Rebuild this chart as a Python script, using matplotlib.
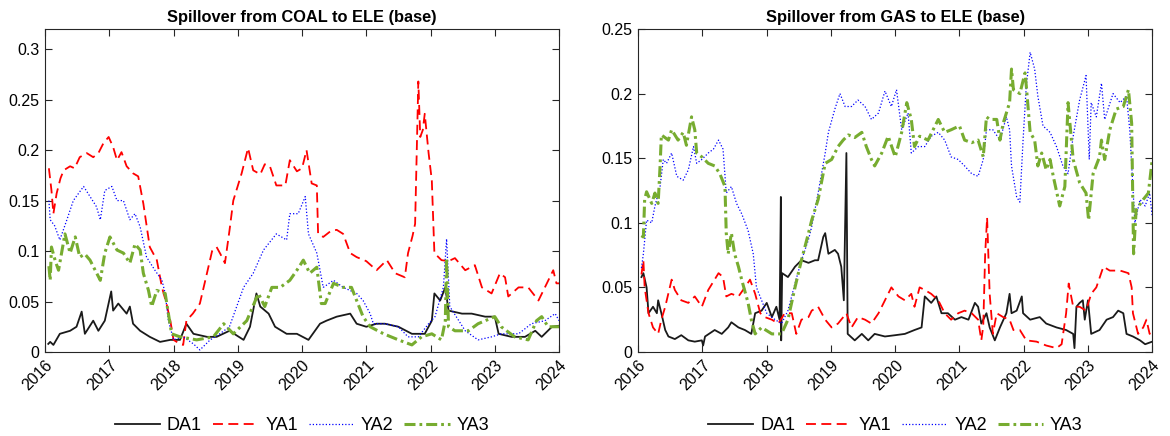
import matplotlib
matplotlib.use("Agg")
import matplotlib.pyplot as plt
import numpy as np

plt.rcParams['font.family'] = ['Liberation Sans', 'DejaVu Sans']

# ---------------- data (decimal year, value) ----------------
coal_da1 = [(2016.05,0.008),(2016.08,0.01),(2016.13,0.007),(2016.23,0.018),(2016.39,0.021),(2016.49,0.025),
            (2016.57,0.04),(2016.62,0.018),(2016.75,0.031),(2016.83,0.021),(2016.93,0.031),(2017.03,0.06),
            (2017.06,0.041),(2017.14,0.048),(2017.27,0.038),(2017.32,0.045),(2017.37,0.028),(2017.48,0.021),
            (2017.63,0.015),(2017.79,0.01),(2017.95,0.012),(2018.1,0.012),(2018.2,0.028),(2018.31,0.018),
            (2018.52,0.015),(2018.67,0.015),(2018.87,0.021),(2019.09,0.012),(2019.19,0.025),(2019.29,0.058),
            (2019.35,0.045),(2019.48,0.038),(2019.58,0.025),(2019.76,0.018),(2019.92,0.018),(2020.1,0.012),
            (2020.28,0.028),(2020.38,0.031),(2020.54,0.035),(2020.75,0.038),(2020.85,0.028),(2021.0,0.025),
            (2021.16,0.028),(2021.29,0.028),(2021.5,0.025),(2021.71,0.018),(2021.91,0.018),(2022.02,0.031),
            (2022.06,0.058),(2022.15,0.051),(2022.23,0.064),(2022.28,0.041),(2022.49,0.038),(2022.64,0.038),
            (2022.85,0.035),(2023.0,0.035),(2023.06,0.018),(2023.26,0.015),(2023.47,0.015),(2023.63,0.021),
            (2023.73,0.015),(2023.89,0.025),(2024.0,0.026)]

coal_ya1 = [(2016.06,0.182),(2016.1,0.16),(2016.13,0.137),(2016.18,0.157),(2016.24,0.172),(2016.29,0.18),
            (2016.39,0.184),(2016.46,0.182),(2016.54,0.193),(2016.65,0.197),(2016.75,0.193),(2016.83,0.197),
            (2016.91,0.207),(2016.99,0.213),(2017.06,0.203),(2017.12,0.19),(2017.19,0.198),(2017.27,0.184),
            (2017.37,0.177),(2017.45,0.174),(2017.53,0.147),(2017.63,0.104),(2017.74,0.091),(2017.82,0.064),
            (2017.89,0.048),(2017.95,0.031),(2018.0,0.012),(2018.1,0.008),(2018.15,0.007),(2018.2,0.031),
            (2018.3,0.038),(2018.41,0.048),(2018.52,0.078),(2018.6,0.1),(2018.67,0.104),(2018.73,0.097),
            (2018.8,0.088),(2018.87,0.12),(2018.93,0.15),(2019.06,0.177),(2019.16,0.202),(2019.24,0.18),
            (2019.35,0.176),(2019.42,0.186),(2019.5,0.184),(2019.6,0.165),(2019.74,0.165),(2019.81,0.19),
            (2019.92,0.179),(2020.0,0.182),(2020.07,0.2),(2020.15,0.167),(2020.23,0.165),(2020.25,0.117),
            (2020.33,0.114),(2020.45,0.12),(2020.54,0.121),(2020.64,0.117),(2020.75,0.098),(2020.85,0.094),
            (2021.0,0.09),(2021.16,0.081),(2021.32,0.091),(2021.45,0.078),(2021.6,0.074),(2021.65,0.098),
            (2021.72,0.115),(2021.76,0.127),(2021.81,0.268),(2021.84,0.213),(2021.88,0.22),(2021.91,0.236),
            (2021.97,0.197),(2022.02,0.17),(2022.06,0.098),(2022.17,0.091),(2022.28,0.09),(2022.38,0.093),
            (2022.54,0.081),(2022.69,0.086),(2022.8,0.064),(2022.95,0.058),(2023.08,0.078),(2023.16,0.074),
            (2023.21,0.055),(2023.37,0.064),(2023.52,0.064),(2023.68,0.051),(2023.78,0.064),(2023.91,0.081),
            (2023.96,0.068),(2024.0,0.068)]

coal_ya2 = [(2016.06,0.15),(2016.08,0.131),(2016.15,0.125),(2016.23,0.111),(2016.34,0.131),(2016.44,0.15),
            (2016.6,0.164),(2016.7,0.154),(2016.8,0.144),(2016.86,0.131),(2016.93,0.16),(2017.04,0.164),
            (2017.12,0.15),(2017.22,0.15),(2017.32,0.131),(2017.4,0.137),(2017.48,0.124),(2017.58,0.094),
            (2017.71,0.081),(2017.82,0.071),(2017.87,0.058),(2017.92,0.031),(2018.0,0.012),(2018.15,0.015),
            (2018.31,0.008),(2018.41,0.002),(2018.57,0.012),(2018.72,0.018),(2018.87,0.025),(2019.09,0.064),
            (2019.24,0.078),(2019.4,0.101),(2019.6,0.117),(2019.76,0.111),(2019.81,0.137),(2019.94,0.137),
            (2020.05,0.154),(2020.1,0.117),(2020.23,0.098),(2020.33,0.064),(2020.49,0.071),(2020.64,0.064),
            (2020.85,0.058),(2020.95,0.051),(2021.06,0.038),(2021.11,0.028),(2021.29,0.028),(2021.5,0.025),
            (2021.65,0.015),(2021.81,0.015),(2021.97,0.028),(2022.07,0.035),(2022.2,0.064),(2022.25,0.112),
            (2022.3,0.045),(2022.54,0.021),(2022.74,0.012),(2022.95,0.015),(2023.1,0.018),(2023.37,0.018),
            (2023.57,0.028),(2023.78,0.031),(2023.94,0.038),(2024.0,0.031)]

coal_ya3 = [(2016.06,0.085),(2016.08,0.071),(2016.1,0.104),(2016.16,0.09),(2016.21,0.081),(2016.31,0.117),
            (2016.39,0.098),(2016.47,0.114),(2016.54,0.094),(2016.62,0.097),(2016.7,0.091),(2016.86,0.071),
            (2016.93,0.098),(2017.01,0.114),(2017.12,0.101),(2017.22,0.098),(2017.32,0.088),(2017.4,0.107),
            (2017.48,0.101),(2017.53,0.078),(2017.61,0.061),(2017.66,0.045),(2017.74,0.061),(2017.87,0.058),
            (2017.92,0.038),(2017.97,0.018),(2018.1,0.015),(2018.36,0.012),(2018.62,0.015),(2018.78,0.028),
            (2018.93,0.018),(2019.14,0.031),(2019.32,0.058),(2019.42,0.045),(2019.53,0.064),(2019.66,0.064),
            (2019.81,0.071),(2019.92,0.081),(2020.02,0.091),(2020.12,0.078),(2020.23,0.084),(2020.3,0.048),
            (2020.36,0.048),(2020.49,0.068),(2020.64,0.064),(2020.77,0.064),(2020.85,0.051),(2020.95,0.035),
            (2021.06,0.025),(2021.27,0.018),(2021.5,0.012),(2021.71,0.007),(2021.86,0.015),(2022.02,0.018),
            (2022.17,0.012),(2022.23,0.031),(2022.25,0.093),(2022.28,0.025),(2022.38,0.021),(2022.59,0.021),
            (2022.74,0.028),(2023.0,0.035),(2023.1,0.025),(2023.31,0.015),(2023.52,0.012),(2023.65,0.031),
            (2023.73,0.035),(2023.83,0.025),(2024.0,0.025)]

gas_da1 = [(2016.05,0.058),(2016.08,0.061),(2016.13,0.05),(2016.16,0.03),(2016.23,0.035),(2016.29,0.03),
           (2016.31,0.04),(2016.36,0.03),(2016.42,0.017),(2016.47,0.012),(2016.57,0.01),(2016.67,0.013),
           (2016.78,0.009),(2016.88,0.008),(2016.99,0.009),(2017.01,0.005),(2017.04,0.012),(2017.19,0.017),
           (2017.3,0.014),(2017.4,0.019),(2017.45,0.023),(2017.56,0.019),(2017.66,0.017),(2017.76,0.014),
           (2017.82,0.03),(2017.92,0.032),(2018.0,0.038),(2018.08,0.027),(2018.15,0.035),(2018.2,0.025),
           (2018.22,0.12),(2018.225,0.009),(2018.24,0.061),(2018.33,0.058),(2018.44,0.066),(2018.54,0.071),
           (2018.65,0.069),(2018.75,0.071),(2018.8,0.071),(2018.88,0.089),(2018.91,0.092),(2018.96,0.076),
           (2019.06,0.079),(2019.11,0.076),(2019.16,0.066),(2019.2,0.04),(2019.24,0.154),(2019.26,0.014),
           (2019.37,0.009),(2019.48,0.014),(2019.58,0.009),(2019.68,0.014),(2019.84,0.012),(2020.0,0.013),
           (2020.15,0.014),(2020.3,0.017),(2020.41,0.019),(2020.46,0.043),(2020.56,0.038),(2020.64,0.043),
           (2020.72,0.03),(2020.82,0.03),(2020.93,0.025),(2021.03,0.027),(2021.14,0.025),(2021.24,0.038),
           (2021.29,0.035),(2021.34,0.022),(2021.42,0.03),(2021.47,0.019),(2021.55,0.009),(2021.63,0.019),
           (2021.73,0.03),(2021.78,0.045),(2021.81,0.03),(2021.89,0.032),(2021.97,0.043),(2021.99,0.03),
           (2022.1,0.025),(2022.25,0.027),(2022.35,0.022),(2022.51,0.019),(2022.66,0.017),(2022.77,0.014),
           (2022.79,0.003),(2022.82,0.035),(2022.87,0.038),(2022.92,0.04),(2022.95,0.025),(2023.0,0.04),
           (2023.05,0.014),(2023.18,0.017),(2023.29,0.025),(2023.39,0.027),(2023.47,0.032),(2023.55,0.03),
           (2023.6,0.014),(2023.7,0.012),(2023.81,0.009),(2023.89,0.006),(2024.0,0.008)]

gas_ya1 = [(2016.05,0.06),(2016.08,0.071),(2016.1,0.05),(2016.16,0.03),(2016.23,0.019),(2016.31,0.014),
           (2016.36,0.025),(2016.42,0.035),(2016.52,0.056),(2016.57,0.048),(2016.67,0.04),(2016.78,0.038),
           (2016.88,0.043),(2016.99,0.035),(2017.09,0.048),(2017.25,0.061),(2017.32,0.058),(2017.37,0.043),
           (2017.45,0.045),(2017.56,0.043),(2017.66,0.05),(2017.74,0.056),(2017.82,0.045),(2017.9,0.03),
           (2017.97,0.027),(2018.08,0.025),(2018.18,0.022),(2018.28,0.03),(2018.39,0.03),(2018.46,0.014),
           (2018.54,0.025),(2018.65,0.027),(2018.7,0.032),(2018.8,0.035),(2018.91,0.025),(2019.01,0.019),
           (2019.11,0.022),(2019.24,0.03),(2019.32,0.019),(2019.42,0.027),(2019.53,0.025),(2019.63,0.022),
           (2019.74,0.03),(2019.84,0.04),(2019.94,0.05),(2020.05,0.043),(2020.15,0.04),(2020.25,0.045),
           (2020.3,0.035),(2020.38,0.05),(2020.46,0.048),(2020.56,0.045),(2020.67,0.04),(2020.77,0.03),
           (2020.87,0.025),(2020.98,0.03),(2021.08,0.032),(2021.19,0.03),(2021.29,0.025),(2021.34,0.009),
           (2021.37,0.02),(2021.4,0.076),(2021.43,0.104),(2021.47,0.045),(2021.52,0.014),(2021.58,0.03),
           (2021.68,0.027),(2021.78,0.025),(2021.84,0.017),(2021.94,0.017),(2022.04,0.009),(2022.2,0.008),
           (2022.35,0.005),(2022.51,0.003),(2022.59,0.006),(2022.66,0.03),(2022.7,0.053),(2022.77,0.035),
           (2022.87,0.035),(2022.97,0.032),(2023.05,0.045),(2023.13,0.05),(2023.24,0.066),(2023.34,0.063),
           (2023.5,0.063),(2023.63,0.061),(2023.68,0.05),(2023.7,0.03),(2023.78,0.014),(2023.86,0.019),
           (2023.91,0.025),(2023.96,0.014),(2024.0,0.017)]

gas_ya2 = [(2016.05,0.065),(2016.08,0.076),(2016.13,0.102),(2016.21,0.1),(2016.26,0.113),(2016.34,0.128),
           (2016.39,0.149),(2016.44,0.146),(2016.52,0.154),(2016.6,0.136),(2016.7,0.133),(2016.78,0.141),
           (2016.86,0.159),(2016.91,0.146),(2016.99,0.149),(2017.09,0.154),(2017.17,0.157),(2017.25,0.164),
           (2017.32,0.157),(2017.37,0.123),(2017.45,0.128),(2017.53,0.115),(2017.61,0.107),(2017.71,0.094),
           (2017.79,0.076),(2017.84,0.05),(2017.92,0.04),(2018.0,0.03),(2018.13,0.025),(2018.23,0.022),
           (2018.33,0.032),(2018.44,0.053),(2018.54,0.071),(2018.65,0.087),(2018.7,0.097),(2018.8,0.123),
           (2018.91,0.154),(2018.96,0.17),(2019.06,0.188),(2019.14,0.2),(2019.22,0.19),(2019.32,0.19),
           (2019.42,0.195),(2019.53,0.19),(2019.63,0.18),(2019.74,0.185),(2019.84,0.202),(2019.94,0.19),
           (2020.02,0.203),(2020.1,0.172),(2020.2,0.185),(2020.25,0.154),(2020.36,0.159),(2020.46,0.159),
           (2020.56,0.167),(2020.67,0.17),(2020.77,0.164),(2020.87,0.151),(2020.98,0.149),(2021.08,0.144),
           (2021.19,0.138),(2021.29,0.136),(2021.37,0.149),(2021.42,0.172),(2021.52,0.172),(2021.63,0.164),
           (2021.73,0.182),(2021.78,0.172),(2021.81,0.144),(2021.89,0.12),(2021.94,0.116),(2021.99,0.164),
           (2022.04,0.206),(2022.1,0.232),(2022.17,0.219),(2022.22,0.198),(2022.3,0.175),(2022.41,0.17),
           (2022.51,0.159),(2022.61,0.144),(2022.69,0.138),(2022.77,0.167),(2022.87,0.195),(2022.97,0.214),
           (2023.02,0.149),(2023.05,0.193),(2023.13,0.182),(2023.21,0.208),(2023.26,0.18),(2023.39,0.2),
           (2023.5,0.193),(2023.6,0.198),(2023.65,0.172),(2023.73,0.1),(2023.81,0.118),(2023.89,0.113),
           (2023.96,0.123),(2024.0,0.105)]

gas_ya3 = [(2016.05,0.09),(2016.08,0.089),(2016.1,0.118),(2016.13,0.124),(2016.21,0.115),(2016.26,0.123),
           (2016.31,0.115),(2016.34,0.144),(2016.36,0.168),(2016.47,0.164),(2016.52,0.172),(2016.62,0.164),
           (2016.7,0.17),(2016.75,0.16),(2016.83,0.182),(2016.88,0.172),(2016.91,0.154),(2016.99,0.151),
           (2017.09,0.146),(2017.19,0.144),(2017.27,0.138),(2017.35,0.128),(2017.37,0.092),(2017.4,0.076),
           (2017.45,0.092),(2017.5,0.076),(2017.56,0.066),(2017.61,0.056),(2017.71,0.038),(2017.76,0.025),
           (2017.82,0.014),(2017.92,0.019),(2018.08,0.014),(2018.23,0.014),(2018.33,0.025),(2018.44,0.05),
           (2018.54,0.071),(2018.65,0.092),(2018.7,0.102),(2018.8,0.118),(2018.91,0.146),(2019.01,0.149),
           (2019.11,0.159),(2019.19,0.164),(2019.27,0.168),(2019.37,0.166),(2019.48,0.17),(2019.55,0.159),
           (2019.63,0.149),(2019.68,0.144),(2019.79,0.154),(2019.89,0.167),(2020.0,0.151),(2020.1,0.17),
           (2020.18,0.193),(2020.25,0.18),(2020.3,0.159),(2020.38,0.167),(2020.51,0.164),(2020.67,0.18),
           (2020.77,0.17),(2020.87,0.172),(2021.0,0.175),(2021.08,0.164),(2021.19,0.162),(2021.29,0.164),
           (2021.37,0.151),(2021.42,0.182),(2021.47,0.18),(2021.58,0.18),(2021.63,0.164),(2021.68,0.177),
           (2021.78,0.193),(2021.81,0.219),(2021.84,0.203),(2021.94,0.2),(2022.02,0.216),(2022.04,0.206),
           (2022.1,0.17),(2022.17,0.164),(2022.22,0.144),(2022.28,0.154),(2022.35,0.141),(2022.41,0.149),
           (2022.46,0.136),(2022.56,0.113),(2022.64,0.128),(2022.69,0.193),(2022.77,0.149),(2022.87,0.131),
           (2022.97,0.123),(2023.01,0.102),(2023.08,0.138),(2023.18,0.151),(2023.21,0.164),(2023.26,0.149),
           (2023.34,0.172),(2023.44,0.188),(2023.55,0.19),(2023.63,0.203),(2023.68,0.177),(2023.71,0.076),
           (2023.75,0.11),(2023.86,0.118),(2023.94,0.123),(2024.0,0.149)]

series_names = ["DA1", "YA1", "YA2", "YA3"]
titles = ["Spillover from COAL to ELE (base)", "Spillover from GAS to ELE (base)"]
year_ticks = [2016, 2017, 2018, 2019, 2020, 2021, 2022, 2023, 2024]
left_yticks = [0, 0.05, 0.1, 0.15, 0.2, 0.25, 0.3]
right_yticks = [0, 0.05, 0.1, 0.15, 0.2, 0.25]
ylims = [(0, 0.32), (0, 0.25)]

# ---------------- styling ----------------
styles = [
    dict(color='#1a1a1a', lw=1.3, ls='-'),
    dict(color='#ff0000', lw=1.3, ls=(0, (5.5, 3.0))),
    dict(color='#0000ff', lw=0.9, ls=(0, (1.0, 1.6))),
    dict(color='#77ac30', lw=2.2, ls=(0, (3.6, 1.3, 0.9, 1.3))),
]

fig = plt.figure(figsize=(11.7, 4.36), dpi=100)
ax_rects = [[0.0385, 0.1927, 0.4393, 0.7408], [0.5455, 0.1927, 0.4393, 0.7408]]
data_sets = [[coal_da1, coal_ya1, coal_ya2, coal_ya3], [gas_da1, gas_ya1, gas_ya2, gas_ya3]]
yticks_all = [left_yticks, right_yticks]
axcol = '#262626'

for i in range(2):
    ax = fig.add_axes(ax_rects[i])
    handles = []
    for s, name, st in zip(data_sets[i], series_names, styles):
        t = [p[0] for p in s]
        v = [p[1] for p in s]
        h, = ax.plot(t, v, label=name, **st)
        handles.append(h)
    ax.set_xlim(2016, 2024)
    ax.set_ylim(*ylims[i])
    ax.set_xticks(year_ticks)
    ax.set_xticklabels([str(y) for y in year_ticks], rotation=45, ha='right',
                       va='top', rotation_mode='anchor')
    ax.set_yticks(yticks_all[i])
    ax.set_yticklabels(['%g' % y for y in yticks_all[i]])
    ax.tick_params(direction='in', length=5, width=0.8, top=True, right=True,
                   labelsize=11.5, colors=axcol, labelcolor='black', pad=4)
    for sp in ax.spines.values():
        sp.set_color(axcol)
        sp.set_linewidth(0.8)
    ax.set_title(titles[i], fontsize=11.8, fontweight='bold', pad=5)
    ax.legend(handles=handles, loc='center', bbox_to_anchor=(0.5, -0.229), ncol=4,
              frameon=False, fontsize=13, handlelength=2.5, handletextpad=0.4,
              columnspacing=0.6, borderaxespad=0, borderpad=0)

fig.savefig('out.png', dpi=100, facecolor='white')
